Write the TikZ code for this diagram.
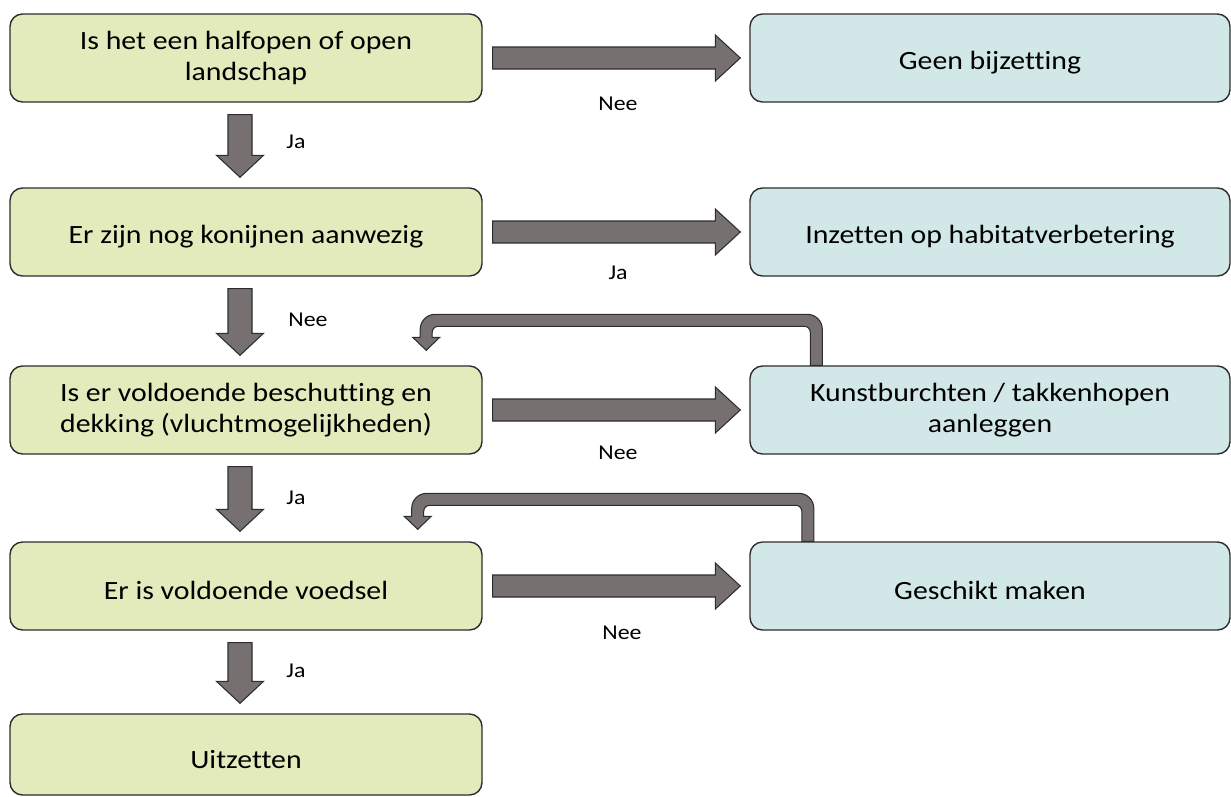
\documentclass[tikz,border=0pt]{standalone}
\usepackage{fontspec}
\setmainfont{Carlito}[FakeStretch=1.13, Ligatures=NoCommon]
\usetikzlibrary{calc,positioning}
\definecolor{vraaggroen}{RGB}{227,235,188}
\definecolor{actieblauw}{RGB}{210,232,232}
\definecolor{pijlgrijs}{RGB}{118,112,113}
\definecolor{rand}{RGB}{45,45,45}
\tikzset{
    vraag/.style={rectangle, rounded corners=2.5mm, draw=rand, line width=0.8pt, fill=vraaggroen,
        minimum width=9.44cm, minimum height=1.76cm, align=center, font=\fontsize{15}{17.6}\selectfont,
        execute at begin node={\rule{0pt}{15.5pt}}},
    actie/.style={vraag, fill=actieblauw, minimum width=9.6cm},
    pijl/.style={draw=rand, line width=0.6pt, fill=pijlgrijs, line join=miter},
    keuze/.style={font=\fontsize{12}{14}\selectfont, inner sep=0pt}
}

\begin{document}
\begin{tikzpicture}
        \useasboundingbox (0,0) rectangle (24.62cm,-15.92cm);
        % vragen (links)
        \node (v1) [vraag] at (4.92cm, -1.16cm) {Is het een halfopen of open\\landschap};
        \node (v2) [vraag] at (4.92cm, -4.64cm) {Er zijn nog konijnen aanwezig};
        \node (v3) [vraag] at (4.92cm, -8.20cm) {Is er voldoende beschutting en\\dekking (vluchtmogelijkheden)};
        \node (v4) [vraag] at (4.92cm, -11.72cm) {Er is voldoende voedsel};
        \node (v5) [vraag, minimum height=1.62cm] at (4.92cm, -15.09cm) {Uitzetten};
        % acties (rechts)
        \node (u1) [actie] at (19.80cm, -1.16cm) {Geen bijzetting};
        \node (u2) [actie] at (19.80cm, -4.64cm) {Inzetten op habitatverbetering};
        \node (u3) [actie] at (19.80cm, -8.20cm) {Kunstburchten / takkenhopen\\aanleggen};
        \node (u4) [actie] at (19.80cm, -11.72cm) {Geschikt maken};
        % pijlen naar rechts
        \foreach \a/\b in {v1/u1, v2/u2, v3/u3, v4/u4} {
                \path ($(\a.east)+(0.2,0)$) coordinate (s) ($(\b.west)+(-0.18,0)$) coordinate (t);
                \draw[pijl] ($(s)+(0,0.22)$) -- ($(t)+(-0.5,0.22)$) -- ($(t)+(-0.5,0.46)$) -- (t)
                        -- ($(t)+(-0.5,-0.46)$) -- ($(t)+(-0.5,-0.22)$) -- ($(s)+(0,-0.22)$) -- cycle;
        }
        % pijlen naar beneden
        \foreach \a/\b in {v1/v2, v2/v3, v3/v4, v4/v5} {
                \path ($(\a.south)+(-0.12,-0.24)$) coordinate (s) ($(\b.north)+(-0.12,0.2)$) coordinate (t);
                \draw[pijl] ($(s)+(-0.24,0)$) -- ($(t)+(-0.24,0.44)$) -- ($(t)+(-0.47,0.44)$) -- (t)
                        -- ($(t)+(0.47,0.44)$) -- ($(t)+(0.24,0.44)$) -- ($(s)+(0.24,0)$) -- cycle;
        }
        % terug naar de vraag
        \coordinate (b1) at ($(u3.north west)+(1.34,0)$);
        \coordinate (b2) at ($(v3.north east)+(-1.13,0.3)$);
        \draw[pijl] let \p1=(b1), \p2=(b2) in
                (\x1+0.12cm,\y1) [rounded corners=0.3cm] -- (\x1+0.12cm,\y1+1.02cm) -- (\x2-0.12cm,\y1+1.02cm)
                [sharp corners] -- (\x2-0.12cm,\y2+0.26cm) -- (\x2-0.27cm,\y2+0.26cm) -- (\x2,\y2)
                -- (\x2+0.27cm,\y2+0.26cm) -- (\x2+0.12cm,\y2+0.26cm) [rounded corners=0.12cm]
                -- (\x2+0.12cm,\y1+0.78cm) -- (\x1-0.12cm,\y1+0.78cm) [sharp corners] -- (\x1-0.12cm,\y1) -- cycle;
        \coordinate (b3) at ($(u4.north west)+(1.17,0)$);
        \coordinate (b4) at ($(v4.north east)+(-1.3,0.24)$);
        \draw[pijl] let \p1=(b3), \p2=(b4) in
                (\x1+0.12cm,\y1) [rounded corners=0.3cm] -- (\x1+0.12cm,\y1+0.96cm) -- (\x2-0.12cm,\y1+0.96cm)
                [sharp corners] -- (\x2-0.12cm,\y2+0.26cm) -- (\x2-0.27cm,\y2+0.26cm) -- (\x2,\y2)
                -- (\x2+0.27cm,\y2+0.26cm) -- (\x2+0.12cm,\y2+0.26cm) [rounded corners=0.12cm]
                -- (\x2+0.12cm,\y1+0.72cm) -- (\x1-0.12cm,\y1+0.72cm) [sharp corners] -- (\x1-0.12cm,\y1) -- cycle;
        % keuzes
        \node (k1) [keuze] at (12.36cm, -2.08cm) {Nee};
        \node (k2) [keuze] at (12.36cm, -5.46cm) {Ja};
        \node (k3) [keuze] at (12.36cm, -9.06cm) {Nee};
        \node (k4) [keuze] at (12.44cm, -12.66cm) {Nee};
        \node (k5) [keuze] at (5.92cm, -2.84cm) {Ja};
        \node (k6) [keuze] at (6.16cm, -6.40cm) {Nee};
        \node (k7) [keuze] at (5.92cm, -9.96cm) {Ja};
        \node (k8) [keuze] at (5.92cm, -13.42cm) {Ja};
\end{tikzpicture}
\end{document}
